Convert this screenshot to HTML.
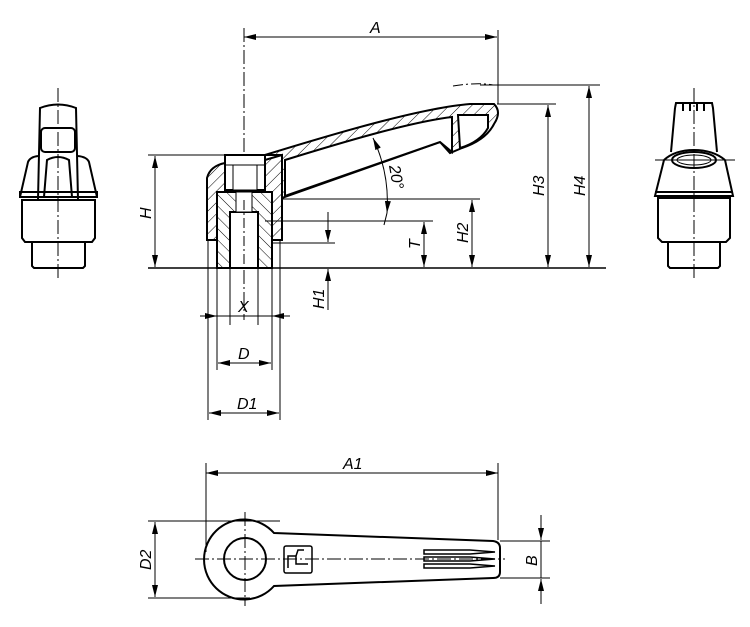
<!DOCTYPE html>
<html><head><meta charset="utf-8"><style>html,body{margin:0;padding:0;background:#fff}svg{display:block}text{font-family:"Liberation Sans",sans-serif;font-style:italic;font-size:16px;fill:#000}</style></head><body>
<svg width="750" height="627" viewBox="0 0 750 627" xmlns="http://www.w3.org/2000/svg">
<defs>
<pattern id="h" patternUnits="userSpaceOnUse" width="8" height="8" patternTransform="rotate(45)"><line x1="0" y1="0" x2="0" y2="8" stroke="#000" stroke-width="1"/></pattern>
<pattern id="h2" patternUnits="userSpaceOnUse" width="8" height="8" patternTransform="rotate(-45)"><line x1="0" y1="0" x2="0" y2="8" stroke="#000" stroke-width="1"/></pattern>
<marker id="a" viewBox="0 0 12 6" refX="12" refY="3" markerWidth="12" markerHeight="6" orient="auto-start-reverse" markerUnits="userSpaceOnUse"><path d="M0,0 L12,3 L0,6z" fill="#000"/></marker>
</defs>
<g fill="none" stroke="#000" stroke-width="1">
<line x1="244" y1="28" x2="244" y2="320" stroke-dasharray="14,3,2,3"/>
<!-- lever -->
<path d="M265,155 C330,135 420,108 470,104 L494,104 Q502,112 494,124 Q486,140 462,148 L450,153 L440,142 L282,198 L282,155 Z" fill="url(#h)" stroke-width="2"/>
<path d="M285,160 C340,143 410,122 452,117 L452,152 L440,142 L285,196 Z" fill="#fff" stroke-width="2"/>
<path d="M458,115 L488,115 L488,128 Q480,142 460,148 Z" fill="#fff" stroke-width="2"/>
<!-- hub -->
<path d="M207,240 L207,178 Q210,166 225,163 L265,160 L282,155 L282,240 Z" fill="url(#h)" stroke-width="2"/>
<rect x="225" y="155" width="40" height="35" fill="#fff" stroke-width="2"/>
<line x1="225" y1="165" x2="265" y2="165"/>
<rect x="233" y="165" width="24" height="25" fill="#fff"/>
<rect x="217" y="192" width="55" height="76" fill="#fff" stroke="none"/>
<rect x="217" y="192" width="55" height="76" fill="url(#h2)" stroke-width="2"/>
<rect x="230" y="212" width="28" height="56" fill="#fff" stroke-width="2"/>
<rect x="236" y="192" width="16" height="20" fill="#fff"/>
<line x1="244" y1="200" x2="244" y2="268" stroke-dasharray="10,3,2,3"/>
<line x1="148" y1="268" x2="606" y2="268" stroke-width="1.5"/>
<line x1="148" y1="155" x2="268" y2="155"/>
<line x1="282" y1="199" x2="480" y2="199"/>
<line x1="265" y1="221" x2="433" y2="221"/>
<line x1="272" y1="243" x2="335" y2="243"/>
<line x1="497" y1="104" x2="556" y2="104"/>
<line x1="480" y1="85" x2="600" y2="85"/>
<path d="M453,86 Q478,82 493,85" stroke-dasharray="10,3,2,3"/>
<line x1="498" y1="30" x2="498" y2="104"/>
<line x1="244" y1="37" x2="497" y2="37" marker-start="url(#a)" marker-end="url(#a)"/>
<line x1="155" y1="156" x2="155" y2="267" marker-start="url(#a)" marker-end="url(#a)"/>
<line x1="589" y1="86" x2="589" y2="267" marker-start="url(#a)" marker-end="url(#a)"/>
<line x1="548" y1="105" x2="548" y2="267" marker-start="url(#a)" marker-end="url(#a)"/>
<line x1="472" y1="200" x2="472" y2="267" marker-start="url(#a)" marker-end="url(#a)"/>
<line x1="424" y1="222" x2="424" y2="267" marker-start="url(#a)" marker-end="url(#a)"/>
<line x1="328" y1="212" x2="328" y2="242" marker-end="url(#a)"/>
<line x1="328" y1="310" x2="328" y2="269" marker-end="url(#a)"/>
<path d="M373,138 A150,150 0 0 1 387,213" marker-start="url(#a)" marker-end="url(#a)"/>
<path d="M387,213 L384,225"/>
<line x1="208" y1="240" x2="208" y2="420"/>
<line x1="217" y1="268" x2="217" y2="370"/>
<line x1="230" y1="268" x2="230" y2="325"/>
<line x1="258" y1="268" x2="258" y2="325"/>
<line x1="272" y1="268" x2="272" y2="370"/>
<line x1="280" y1="240" x2="280" y2="420"/>
<line x1="200" y1="316" x2="217" y2="316" marker-end="url(#a)"/>
<line x1="290" y1="316" x2="272" y2="316" marker-end="url(#a)"/>
<line x1="217" y1="316" x2="272" y2="316"/>
<line x1="218" y1="363" x2="271" y2="363" marker-start="url(#a)" marker-end="url(#a)"/>
<line x1="209" y1="413" x2="279" y2="413" marker-start="url(#a)" marker-end="url(#a)"/>
<!-- left view -->
<line x1="58" y1="88" x2="58" y2="278" stroke-dasharray="14,3,2,3"/>
<g stroke-width="2">
<path d="M38,200 L40,108 Q58,101 76,108 L78,200"/>
<rect x="41" y="128" width="34" height="24" rx="4"/>
<path d="M44,197 L47,160 Q58,154 69,160 L72,197"/>
<path d="M20,197 L28,162 Q30,157 38,156 M97,197 L89,162 Q87,157 78,156"/>
<path d="M20,197 L20,192 L97,192 L97,197 Z"/>
<path d="M22,200 L95,200 L95,238 L92,242 L25,242 L22,238 Z"/>
<path d="M32,242 L32,266 L34,268 L83,268 L85,266 L85,242"/>
</g>
<!-- right view -->
<line x1="694" y1="88" x2="694" y2="278" stroke-dasharray="14,3,2,3"/>
<line x1="655" y1="160" x2="735" y2="160"/>
<g stroke-width="2">
<path d="M675,108 L676,103 L712,103 L713,108 L717,152 M675,108 L671,152"/>
<path d="M683,103 v8 M690,103 v8 M697,103 v8 M704,103 v8"/>
<ellipse cx="694" cy="160" rx="22" ry="8"/>
<ellipse cx="694" cy="160" rx="17" ry="5" stroke-width="1"/>
<path d="M664,160 Q675,150 694,150 Q713,150 725,160"/>
<path d="M664,160 L655,196 L733,196 L725,160"/>
<line x1="655" y1="192" x2="733" y2="192"/>
<path d="M658,198 L730,198 L730,238 L726,242 L662,242 L658,238 Z"/>
<path d="M668,242 L668,266 L670,268 L718,268 L720,266 L720,242"/>
</g>
<!-- bottom view -->
<line x1="206" y1="463" x2="206" y2="552"/>
<line x1="498" y1="463" x2="498" y2="540"/>
<line x1="206" y1="473" x2="498" y2="473" marker-start="url(#a)" marker-end="url(#a)"/>
<path d="M274,533 L493,541 Q500,542 500,548 L500,572 Q500,578 493,578 L274,586 A40,40 0 1 1 274,533 Z" stroke-width="2"/>
<circle cx="245" cy="559" r="21" stroke-width="2"/>
<line x1="195" y1="559" x2="505" y2="559" stroke-dasharray="14,3,2,3"/>
<line x1="245" y1="512" x2="245" y2="606" stroke-dasharray="14,3,2,3"/>
<rect x="284" y="546" width="28" height="27" rx="2" stroke-width="1.5"/>
<path d="M288,568 L288,556 L296,556 L298,550 L304,550 M296,556 L296,564 L308,564" stroke-width="1.5"/>
<g stroke-width="1.5">
<path d="M424,550 L470,550 L495,552 L470,554 L424,554 Z"/>
<path d="M424,557 L470,557 L495,559 L470,561 L424,561 Z"/>
<path d="M424,564 L470,564 L495,566 L470,568 L424,568 Z"/>
</g>
<line x1="148" y1="521" x2="280" y2="521"/>
<line x1="148" y1="598" x2="250" y2="598"/>
<line x1="155" y1="522" x2="155" y2="597" marker-start="url(#a)" marker-end="url(#a)"/>
<line x1="500" y1="541" x2="550" y2="541"/>
<line x1="500" y1="578" x2="550" y2="578"/>
<line x1="541" y1="515" x2="541" y2="540" marker-end="url(#a)"/>
<line x1="541" y1="604" x2="541" y2="579" marker-end="url(#a)"/>
<line x1="541" y1="541" x2="541" y2="578"/>
</g>
<text x="370" y="33">A</text>
<text x="343" y="469">A1</text>
<text x="238" y="312">X</text>
<text x="238" y="359">D</text>
<text x="237" y="409">D1</text>
<text transform="translate(151,219) rotate(-90)">H</text>
<text transform="translate(468,243) rotate(-90)">H2</text>
<text transform="translate(544,196) rotate(-90)">H3</text>
<text transform="translate(585,196) rotate(-90)">H4</text>
<text transform="translate(420,249) rotate(-90)">T</text>
<text transform="translate(324,309) rotate(-90)">H1</text>
<text transform="translate(151,570) rotate(-90)">D2</text>
<text transform="translate(537,566) rotate(-90)">B</text>
<text transform="translate(389,166) rotate(80)">20°</text>
</svg>
</body></html>
